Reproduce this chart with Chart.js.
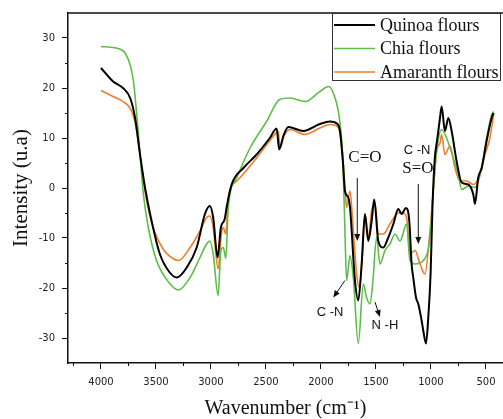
<!DOCTYPE html>
<html>
<head>
<meta charset="utf-8">
<script src="https://cdn.jsdelivr.net/npm/chart.js@4/dist/chart.umd.min.js"></script>
<style>
  html, body { margin: 0; padding: 0; background: #fff; }
  #wrap { width: 503px; height: 419px; position: relative; }
</style>
</head>
<body>
<div id="wrap"><canvas id="ftirChart"></canvas></div>
<script>
// FTIR spectra of the three flours
const seriesNames = ['Quinoa flours', 'Chia flours', 'Amaranth flours'];
const seriesColors = ['#000000', '#5DBE45', '#F07E2C'];

const quinoaWn = [4000,3890,3800,3735,3690,3645,3600,3540,3465,3375,3310,3220,3130,3055,3010,2980,2940,2910,2875,2858,2812,2705,2585,2465,2403,2380,2342,2297,2160,2010,1920,1850,1827,1800,1782,1752,1736,1691,1661,1630,1600,1570,1539,1516,1479,1433,1388,1342,1297,1267,1227,1197,1176,1161,1136,1115,1085,1070,1045,1024,1003,985,965,948,933,918,903,873,842,812,767,721,661,615,600,570,539,494,448,430];
const quinoaInt = [24.0,21.3,20.0,18.0,14.0,6.7,0.1,-6.6,-13.2,-16.9,-17.9,-15.9,-11.9,-5.2,-3.6,-5.9,-13.9,-7.9,-6.2,-3.9,0.7,4.0,6.7,10.0,11.9,7.7,10.4,12.2,11.4,12.8,13.3,12.8,11.4,5.0,-0.6,-1.9,-3.9,-18.5,-22.5,-15.2,-5.2,-10.6,-6.6,-2.3,-10.6,-11.9,-9.9,-7.2,-4.2,-5.2,-4.0,-6.6,-15.2,-17.9,-21.9,-23.2,-26.5,-28.5,-31.1,-25.8,-17.0,-3.0,6.0,9.0,11.4,14.0,16.3,11.4,14.0,11.4,5.4,1.1,0.7,-1.3,-3.2,2.1,4.0,9.4,14.0,15.0];

const chiaWn = [4000,3810,3735,3705,3675,3645,3615,3570,3495,3375,3295,3190,3100,3040,3010,2980,2935,2910,2888,2865,2843,2765,2645,2495,2375,2280,2145,2010,1930,1880,1830,1800,1782,1767,1736,1706,1661,1615,1585,1555,1530,1494,1464,1418,1373,1327,1282,1221,1191,1145,1070,1009,979,948,903,858,797,752,721,661,600,539,494,448,430];
const chiaInt = [28.3,27.6,24.6,21.3,14.7,6.8,-1.2,-7.9,-14.5,-19.1,-20.4,-17.9,-13.9,-11.2,-10.6,-13.2,-21.5,-12.5,-11.9,-14.1,-3.9,2.1,8.0,13.3,17.7,18.0,17.3,19.3,20.3,18.5,13.5,5.0,-8.6,-18.5,-13.5,-17.9,-31.1,-19.2,-21.9,-23.2,-19.2,-9.9,-15.2,-12.5,-11.2,-9.2,-10.6,-7.2,-14.5,-15.2,-14.5,-9.9,-0.6,7.4,11.7,10.0,6.0,2.7,-0.3,0.4,0.1,4.0,10.0,14.7,15.3];

const amaranthWn = [4000,3890,3800,3720,3675,3630,3585,3525,3435,3340,3295,3190,3100,3040,3010,2980,2935,2905,2888,2865,2843,2765,2585,2420,2388,2373,2336,2282,2145,2010,1920,1850,1827,1800,1782,1767,1736,1706,1676,1652,1621,1600,1570,1539,1509,1479,1433,1373,1312,1267,1221,1191,1145,1100,1055,1009,979,948,918,903,873,827,782,736,676,615,554,509,464,430];
const amaranthInt = [19.5,18.3,17.3,15.3,11.4,4.0,-2.6,-7.9,-12.2,-14.2,-14.5,-11.9,-8.6,-5.9,-5.6,-7.9,-16.2,-9.2,-7.9,-9.2,-1.9,1.4,6.0,10.7,11.4,8.0,10.4,11.7,10.7,12.0,12.7,12.3,11.0,6.0,0.1,-3.9,-0.6,-8.6,-17.2,-19.9,-12.5,-5.2,-9.9,-4.6,-2.9,-9.2,-9.2,-7.2,-5.2,-4.9,-5.9,-13.2,-12.5,-15.2,-17.2,-8.6,-0.6,7.4,9.0,10.7,6.7,8.4,4.0,1.4,1.4,0.7,2.7,6.7,10.0,14.7];

const xTicks = [4000, 3500, 3000, 2500, 2000, 1500, 1000, 500];
const xMinor = [4250, 3750, 3250, 2750, 2250, 1750, 1250, 750];
const yTicks = [-30, -20, -10, 0, 10, 20, 30];
const yMinor = [-25, -15, -5, 5, 15, 25];

// band labels and arrows, anchored in data units
const notes = [
  { text: 'C=O',  wn: 1600, v: 6.0,   serif: true },
  { text: 'C -N', wn: 1127, v: 7.6,   serif: false },
  { text: 'S=O',  wn: 1118, v: 3.8,   serif: true },
  { text: 'C -N', wn: 1918, v: -24.9, serif: false },
  { text: 'N -H', wn: 1418, v: -27.5, serif: false }
];
const arrows = [
  [1670, 2.0, 1670, -10.6],
  [1115, 0.8, 1115, -11.2],
  [1782, -18.5, 1888, -21.9],
  [1509, -22.8, 1464, -25.8]
];

function pts(wn, val) {
  return wn.map(function(w, i) { return { x: w, y: val[i] }; });
}

const serifFont = '"Liberation Serif", "Times New Roman", serif';
const sansFont = '"DejaVu Sans", Verdana, sans-serif';

const extras = {
  id: 'extras',
  afterDatasetsDraw(chart) {
    const { ctx, scales: { x, y } } = chart;
    ctx.save();
    ctx.fillStyle = '#111';
    ctx.strokeStyle = '#111';
    ctx.textAlign = 'center';
    ctx.textBaseline = 'middle';
    notes.forEach(function(n) {
      ctx.font = n.serif ? '17px ' + serifFont : '13px "Liberation Sans", Arial, sans-serif';
      ctx.fillText(n.text, x.getPixelForValue(n.wn), y.getPixelForValue(n.v));
    });
    ctx.lineWidth = 1;
    arrows.forEach(function(a) {
      const x0 = x.getPixelForValue(a[0]), y0 = y.getPixelForValue(a[1]);
      const x1 = x.getPixelForValue(a[2]), y1 = y.getPixelForValue(a[3]);
      const ang = Math.atan2(y1 - y0, x1 - x0);
      ctx.beginPath();
      ctx.moveTo(x0, y0);
      ctx.lineTo(x1 - 5 * Math.cos(ang), y1 - 5 * Math.sin(ang));
      ctx.stroke();
      ctx.beginPath();
      ctx.moveTo(x1, y1);
      ctx.lineTo(x1 - 7 * Math.cos(ang) + 3 * Math.sin(ang), y1 - 7 * Math.sin(ang) - 3 * Math.cos(ang));
      ctx.lineTo(x1 - 7 * Math.cos(ang) - 3 * Math.sin(ang), y1 - 7 * Math.sin(ang) + 3 * Math.cos(ang));
      ctx.closePath();
      ctx.fill();
    });
    ctx.restore();
  },
  afterDraw(chart) {
    const { ctx, chartArea: a, scales: { x, y } } = chart;
    ctx.save();
    ctx.strokeStyle = '#111';
    // top frame line
    ctx.lineWidth = 1.5;
    ctx.beginPath();
    ctx.moveTo(a.left, a.top);
    ctx.lineTo(a.right, a.top);
    ctx.stroke();
    // minor ticks
    ctx.lineWidth = 1;
    ctx.beginPath();
    xMinor.forEach(function(v) {
      const px = Math.round(x.getPixelForValue(v)) + 0.5;
      ctx.moveTo(px, a.bottom);
      ctx.lineTo(px, a.bottom + 3);
    });
    yMinor.forEach(function(v) {
      const py = Math.round(y.getPixelForValue(v)) + 0.5;
      ctx.moveTo(a.left, py);
      ctx.lineTo(a.left - 3, py);
    });
    ctx.stroke();

    // legend box
    const lx = 332, ly = 13, lw = 168, lh = 67;
    ctx.fillStyle = '#fff';
    ctx.fillRect(lx, ly, lw, lh);
    ctx.lineWidth = 1;
    ctx.strokeStyle = '#333';
    ctx.strokeRect(lx + 0.5, ly + 0.5, lw, lh);
    ctx.font = '18px ' + serifFont;
    ctx.textAlign = 'left';
    ctx.textBaseline = 'middle';
    seriesNames.forEach(function(name, i) {
      const ry = ly + 12 + i * 23.5;
      ctx.strokeStyle = seriesColors[i];
      ctx.lineWidth = i === 0 ? 2 : 1.5;
      ctx.beginPath();
      ctx.moveTo(lx + 2, ry);
      ctx.lineTo(lx + 43, ry);
      ctx.stroke();
      ctx.fillStyle = '#111';
      ctx.fillText(name, lx + 48, ry + 1);
    });
    ctx.restore();
  }
};

new Chart(document.getElementById('ftirChart'), {
  type: 'line',
  data: {
    datasets: [
      { label: seriesNames[0], data: pts(quinoaWn, quinoaInt), borderColor: seriesColors[0], borderWidth: 2 },
      { label: seriesNames[1], data: pts(chiaWn, chiaInt), borderColor: seriesColors[1], borderWidth: 1.6 },
      { label: seriesNames[2], data: pts(amaranthWn, amaranthInt), borderColor: seriesColors[2], borderWidth: 1.6 }
    ]
  },
  options: {
    responsive: true,
    maintainAspectRatio: false,
    animation: false,
    elements: { point: { radius: 0 }, line: { cubicInterpolationMode: 'monotone', fill: false } },
    layout: { padding: { top: 12, right: 0, left: 0, bottom: 0 } },
    plugins: { legend: { display: false }, tooltip: { enabled: false } },
    scales: {
      x: {
        type: 'linear',
        reverse: true,
        min: 345,
        max: 4300,
        afterBuildTicks: function(scale) { scale.ticks = xTicks.map(function(v) { return { value: v }; }); },
        afterFit: function(scale) { scale.height = 56; },
        grid: { drawOnChartArea: false, tickLength: 6, color: '#111', tickColor: '#111' },
        border: { display: true, color: '#111', width: 1.5 },
        ticks: { color: '#222', font: { family: sansFont, size: 10 }, padding: 7, maxRotation: 0, autoSkip: false,
                 callback: function(v) { return String(v); } },
        title: { display: true, text: 'Wavenumber (cm\u207B\u00B9)', color: '#111', font: { family: serifFont, size: 20, lineHeight: 1 }, padding: 0 }
      },
      y: {
        min: -35,
        max: 35,
        afterBuildTicks: function(scale) { scale.ticks = yTicks.map(function(v) { return { value: v }; }); },
        afterFit: function(scale) { scale.width = 68; },
        grid: { drawOnChartArea: false, tickLength: 6, color: '#111', tickColor: '#111' },
        border: { display: true, color: '#111', width: 1.5 },
        ticks: { color: '#222', font: { family: sansFont, size: 10 }, padding: 7,
                 callback: function(v) { return String(v); } },
        title: { display: true, text: 'Intensity (u.a)', color: '#111', font: { family: serifFont, size: 21 }, padding: 9 }
      }
    }
  },
  plugins: [extras]
});
</script>
</body>
</html>
